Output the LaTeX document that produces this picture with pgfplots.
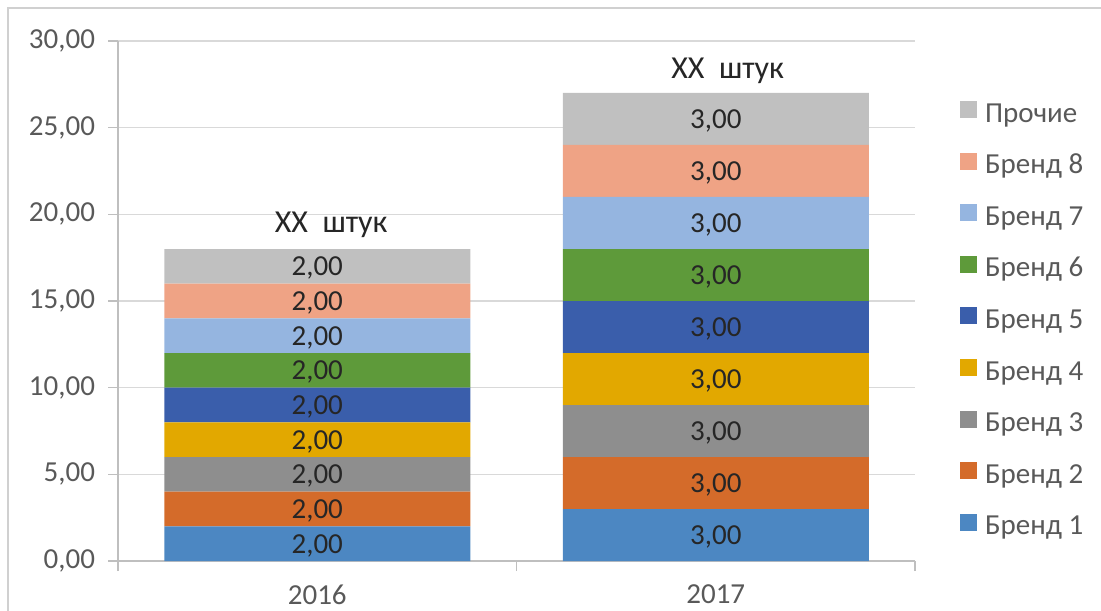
\documentclass[border=0pt]{standalone}
\usepackage{fontspec}
\setmainfont{Carlito}
\usepackage{pgfplots}
\pgfplotsset{compat=1.18}
\usepackage{pgfplotstable}

\definecolor{bA}{HTML}{4C87C2}
\definecolor{bB}{HTML}{D46B2A}
\definecolor{bC}{HTML}{8E8E8E}
\definecolor{bD}{HTML}{E2A800}
\definecolor{bE}{HTML}{3A5EAB}
\definecolor{bF}{HTML}{5E9A3A}
\definecolor{bG}{HTML}{95B5E0}
\definecolor{bH}{HTML}{EFA385}
\definecolor{bI}{HTML}{C0C0C0}
\definecolor{axisgray}{HTML}{BFBFBF}
\definecolor{gridgray}{HTML}{D9D9D9}
\definecolor{framegray}{HTML}{D0D0D0}
\definecolor{labgray}{HTML}{595959}
\definecolor{valtext}{HTML}{262626}

% segment values per year (2016, 2017)
\pgfplotstableread{
x  b1 b2 b3 b4 b5 b6 b7 b8 pr
1  2  2  2  2  2  2  2  2  2
2  3  3  3  3  3  3  3  3  3
}\brands

\newcommand\seg[2]{%
  \addplot[fill=#1, draw=none] table[x=x, y=#2, meta=#2] {\brands};}

\begin{document}
\begin{tikzpicture}[x=0.5pt, y=0.5pt]
\useasboundingbox (0,0) rectangle (1101,610);
\draw[framegray, line width=0.8pt] (8,-20) -- (8,602) -- (1120,602);
\begin{axis}[
    at={(59pt,24.5pt)}, anchor=south west,
    scale only axis, width=398.5pt, height=260pt,
    ybar stacked, bar width=153pt,
    xmin=0.5, xmax=2.5, ymin=0, ymax=30,
    enlargelimits=false,
    xtick={1,2}, xticklabels={2016,2017},
    minor xtick={0.5,1.5,2.5},
    ytick={0,5,...,30},
    axis x line*=bottom, axis y line*=left,
    axis line style={axisgray, line width=0.7pt, -},
    ymajorgrids, major grid style={gridgray, line width=0.7pt},
    tick align=outside,
    major tick length=5pt, minor tick length=5pt,
    major x tick style={draw=none},
    minor x tick style={axisgray, line width=0.7pt},
    ytick style={axisgray, line width=0.7pt},
    tick label style={font=\fontsize{14.5}{16}\selectfont, text=labgray},
    yticklabel style={xshift=-3pt},
    xticklabel style={yshift=-3.5pt},
    /pgf/number format/assume math mode=true,
    yticklabel={\pgfmathprintnumber[fixed, fixed zerofill, precision=2, use comma]{\tick}},
    point meta=explicit,
    nodes near coords={\pgfmathprintnumber[fixed, fixed zerofill, precision=2, use comma]{\pgfplotspointmeta}},
    every node near coord/.append style={font=\fontsize{14.5}{16}\selectfont, text=valtext,
        anchor=center, yshift=-1pt},
    reverse legend,
    legend image code/.code={\fill[#1, draw=none] (0pt,-1pt) rectangle (8.5pt,7.5pt);},
    legend style={at={(1,1)}, anchor=north west, xshift=22.5pt, yshift=-30pt,
        draw=none, fill=none, inner sep=0pt, outer sep=0pt,
        font=\fontsize{14.5}{16}\selectfont, text=labgray, row sep=12.3pt,
        nodes={inner sep=0pt, text height=9pt, text depth=3pt},
        /tikz/every odd column/.append style={column sep=4pt}},
    legend cell align=left,
]
\seg{bA}{b1}
\seg{bB}{b2}
\seg{bC}{b3}
\seg{bD}{b4}
\seg{bE}{b5}
\seg{bF}{b6}
\seg{bG}{b7}
\seg{bH}{b8}
\seg{bI}{pr}
\legend{Бренд 1, Бренд 2, Бренд 3, Бренд 4, Бренд 5, Бренд 6, Бренд 7, Бренд 8, Прочие}
\node[font=\fontsize{16}{19}\selectfont, text=valtext] at (axis cs:1.035,19.4) {XX\ \ штук};
\node[font=\fontsize{16}{19}\selectfont, text=valtext] at (axis cs:2.03,28.3) {XX\ \ штук};
\end{axis}
\end{tikzpicture}
\end{document}
